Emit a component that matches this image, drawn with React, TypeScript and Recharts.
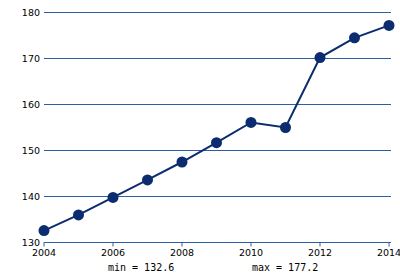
import { CartesianGrid, Line, LineChart, XAxis, YAxis } from "recharts";

const years = [2004, 2005, 2006, 2007, 2008, 2009, 2010, 2011, 2012, 2013, 2014];
const values = [132.6, 136.0, 139.8, 143.6, 147.5, 151.7, 156.1, 155.0, 170.2, 174.5, 177.2];
const yTicks = [130, 140, 150, 160, 170, 180];
const xTicks = [2004, 2006, 2008, 2010, 2012, 2014];

const GRID = "#2a5fa3";
const LINE = "#0b2c6e";

export default function App() {
  const data = years.map((year, i) => ({ year, value: values[i] }));
  const min = Math.min(...values);
  const max = Math.max(...values);

  return (
    <div style={{ position: "absolute", left: 0, top: 0, width: 400, height: 280, background: "#fff" }}>
      <LineChart
        width={400}
        height={280}
        data={data}
        margin={{ top: 12.5, right: 9, bottom: 17.5, left: 0 }}
      >
        <CartesianGrid stroke={GRID} strokeWidth={1} vertical={false} />
        <XAxis
          dataKey="year"
          type="number"
          domain={[2004, 2014]}
          ticks={xTicks}
          height={20}
          padding={{ left: 0, right: 2 }}
          stroke={GRID}
          tickSize={4}
          tickMargin={3}
          tick={{ fontSize: 9.5, fontFamily: "DejaVu Sans", fill: "#000" }}
        />
        <YAxis
          domain={[130, 180]}
          ticks={yTicks}
          width={44}
          axisLine={false}
          tickLine={false}
          tickSize={0}
          tickMargin={4}
          tick={{ fontSize: 9.5, fontFamily: "DejaVu Sans", fill: "#000" }}
        />
        <Line
          dataKey="value"
          type="linear"
          stroke={LINE}
          strokeWidth={2}
          dot={{ r: 5.5, fill: LINE, stroke: LINE, strokeWidth: 0 }}
          isAnimationActive={false}
        />
      </LineChart>
      <div style={{ position: "absolute", left: 108, top: 262, fontFamily: "DejaVu Sans Mono", fontSize: 10, color: "#000", whiteSpace: "pre" }}>
        {`min = ${min.toFixed(1)}`}
      </div>
      <div style={{ position: "absolute", left: 252, top: 262, fontFamily: "DejaVu Sans Mono", fontSize: 10, color: "#000", whiteSpace: "pre" }}>
        {`max = ${max.toFixed(1)}`}
      </div>
    </div>
  );
}
